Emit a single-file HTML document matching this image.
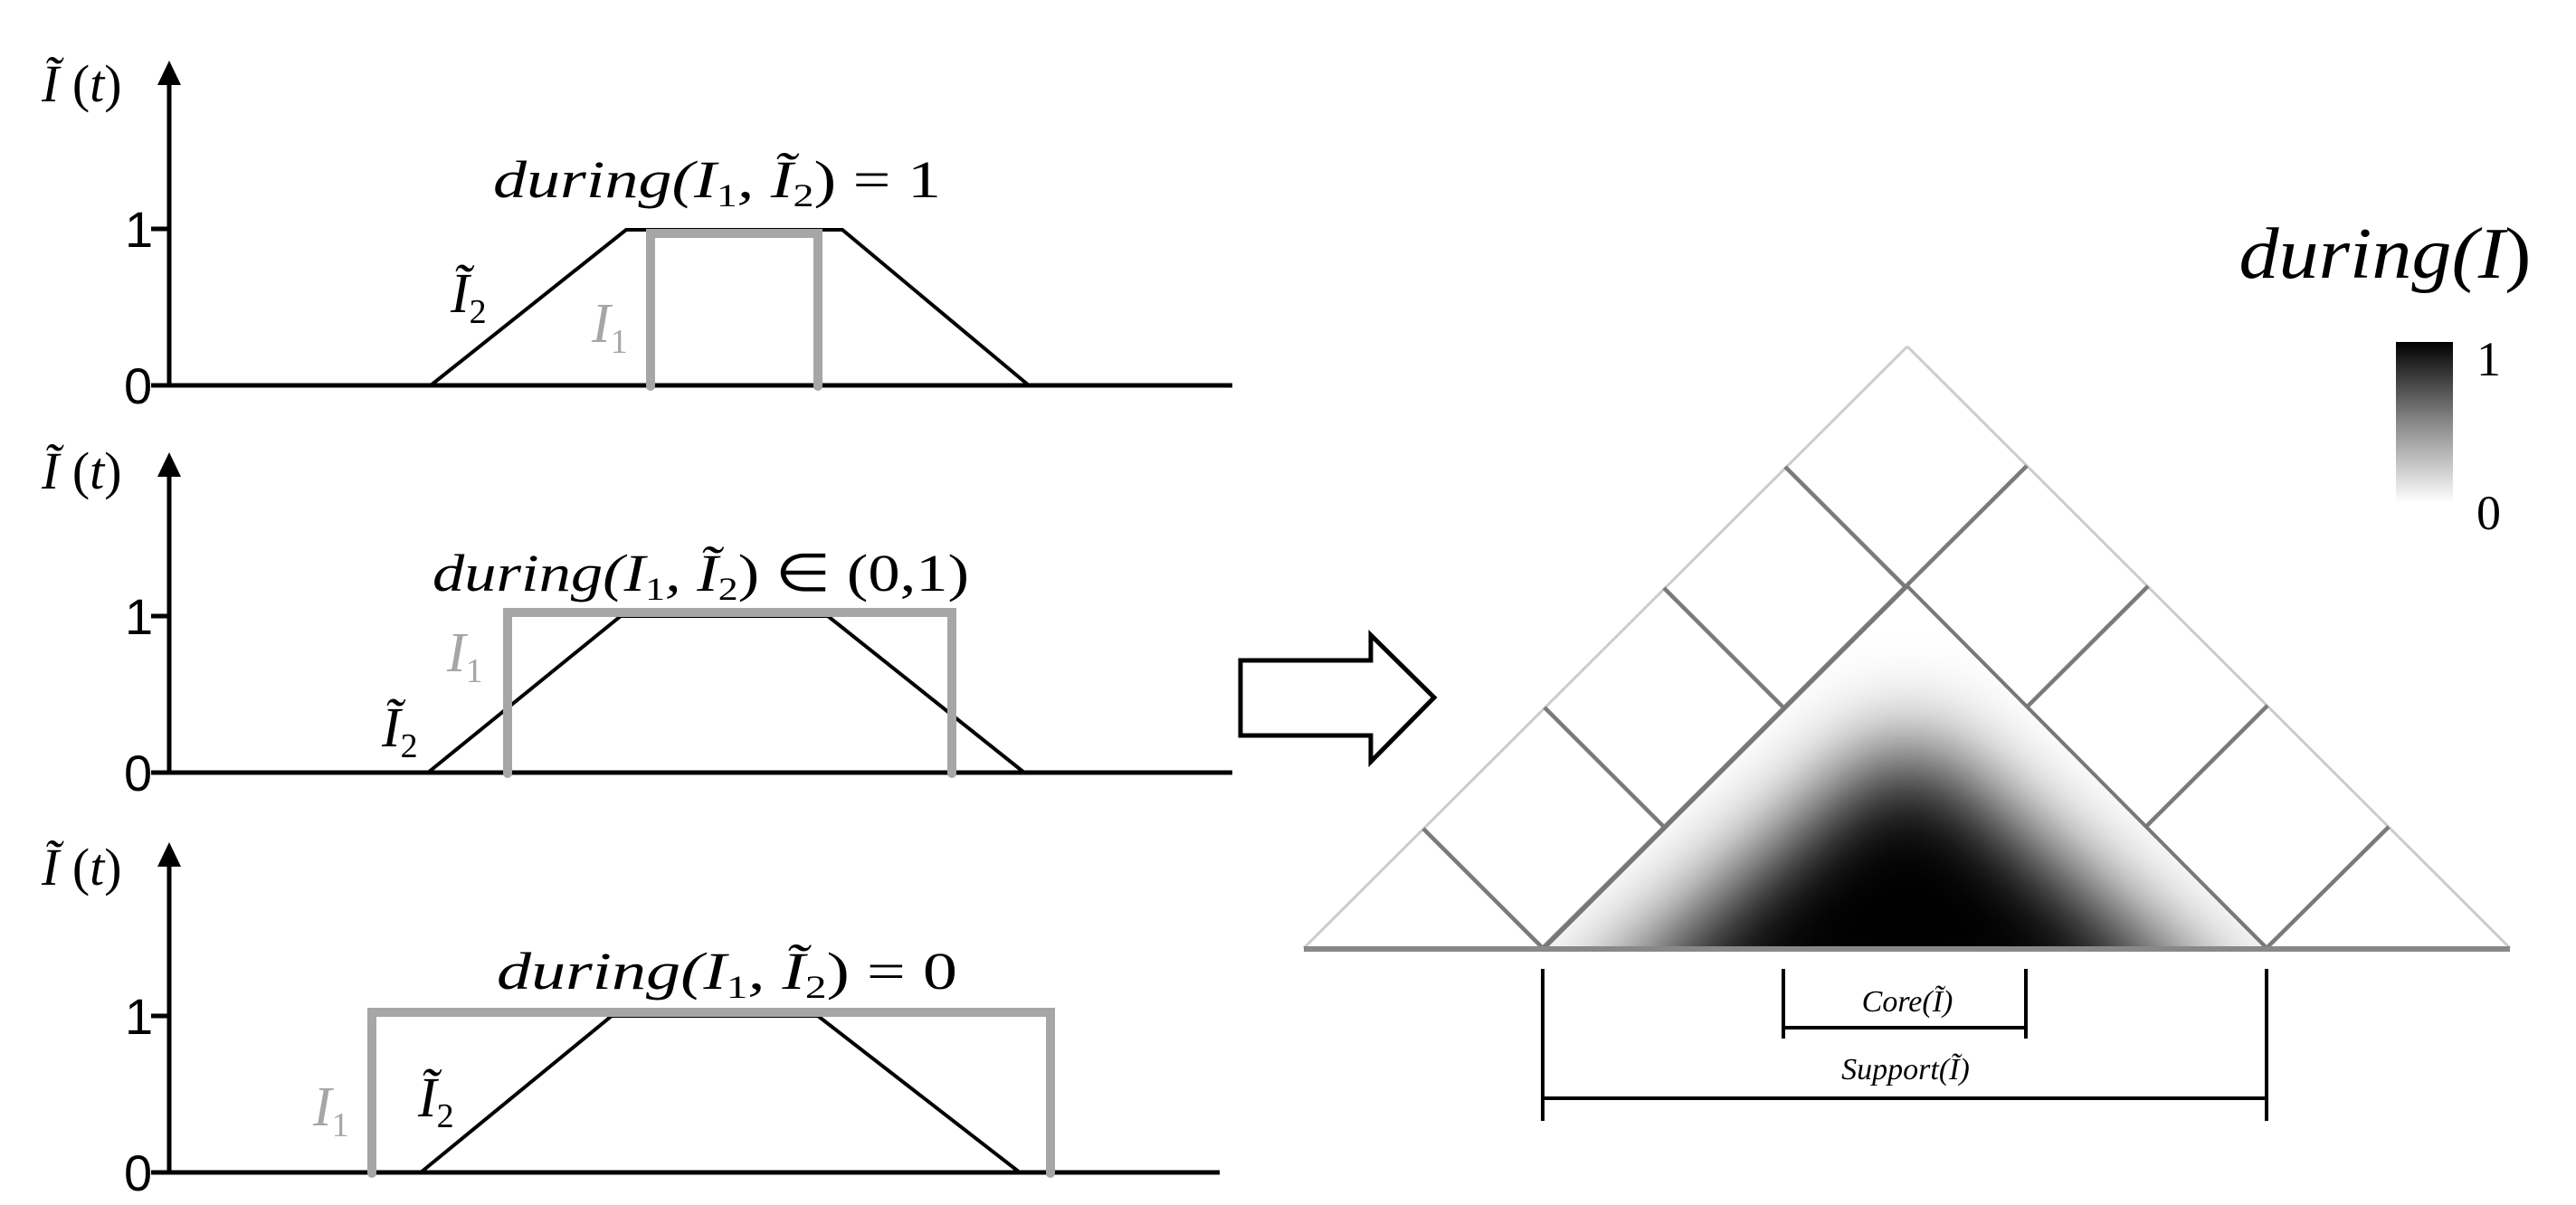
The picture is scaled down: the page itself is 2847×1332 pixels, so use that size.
<!DOCTYPE html>
<html><head><meta charset="utf-8"><style>html,body{margin:0;padding:0;background:#fff}svg{display:block}</style></head>
<body>
<svg width="2847" height="1332" viewBox="0 0 2847 1332" xmlns="http://www.w3.org/2000/svg">
<defs>
<linearGradient id="cb" x1="0" y1="0" x2="0" y2="1">
<stop offset="0" stop-color="#000"/><stop offset="0.5" stop-color="#888"/><stop offset="1" stop-color="#fff"/>
</linearGradient>
<clipPath id="gc"><polygon points="1707,1048 2108,648 2507,1048"/></clipPath>
<filter id="bl" filterUnits="userSpaceOnUse" x="1400" y="500" width="1400" height="800"><feGaussianBlur stdDeviation="55"/></filter>
</defs>
<g font-family="'Liberation Serif', serif" font-style="italic">
<!-- Plot 1 -->
<g stroke="#000" stroke-width="5" fill="none">
<line x1="187" y1="80" x2="187" y2="426"/><line x1="167" y1="426" x2="1362" y2="426"/><line x1="167" y1="253" x2="187" y2="253"/>
</g>
<polygon points="174,94 200,94 187,67" fill="#000"/>
<polyline points="476,426 692,254 931,254 1137,426" fill="none" stroke="#000" stroke-width="4"/>
<polyline points="719,427 719,258 904,258 904,427" fill="none" stroke="#a6a6a6" stroke-width="10" stroke-linecap="round"/>
<text x="545" y="218" font-size="58" textLength="495" lengthAdjust="spacingAndGlyphs">during(I<tspan font-style="normal" font-size="36" dy="10">1</tspan><tspan dy="-10">, Ĩ</tspan><tspan font-style="normal" font-size="36" dy="10">2</tspan><tspan dy="-10" font-style="normal">) = 1</tspan></text>
<text x="498" y="345" font-size="62">Ĩ<tspan font-style="normal" font-size="38" dy="12">2</tspan></text>
<text x="654" y="378" font-size="62" fill="#a6a6a6">I<tspan font-style="normal" font-size="38" dy="12">1</tspan></text>
<!-- Plot 2 -->
<g stroke="#000" stroke-width="5" fill="none">
<line x1="187" y1="512" x2="187" y2="854"/><line x1="167" y1="854" x2="1362" y2="854"/><line x1="167" y1="681" x2="187" y2="681"/>
</g>
<polygon points="174,527 200,527 187,500" fill="#000"/>
<polyline points="473,854 686,681 915,681 1132,854" fill="none" stroke="#000" stroke-width="4"/>
<polyline points="561,855 561,677 1052,677 1052,855" fill="none" stroke="#a6a6a6" stroke-width="10" stroke-linecap="round"/>
<text x="478" y="653" font-size="58" textLength="593" lengthAdjust="spacingAndGlyphs">during(I<tspan font-style="normal" font-size="36" dy="10">1</tspan><tspan dy="-10">, Ĩ</tspan><tspan font-style="normal" font-size="36" dy="10">2</tspan><tspan dy="-10" font-style="normal">) ∈ (0,1)</tspan></text>
<text x="494" y="742" font-size="62" fill="#a6a6a6">I<tspan font-style="normal" font-size="38" dy="12">1</tspan></text>
<text x="422" y="825" font-size="62">Ĩ<tspan font-style="normal" font-size="38" dy="12">2</tspan></text>
<!-- Plot 3 -->
<g stroke="#000" stroke-width="5" fill="none">
<line x1="187" y1="944" x2="187" y2="1296"/><line x1="167" y1="1296" x2="1348" y2="1296"/><line x1="167" y1="1123" x2="187" y2="1123"/>
</g>
<polygon points="174,958 200,958 187,931" fill="#000"/>
<polyline points="465,1296 676,1123 904,1123 1127,1296" fill="none" stroke="#000" stroke-width="4"/>
<polyline points="411,1297 411,1119 1161,1119 1161,1297" fill="none" stroke="#a6a6a6" stroke-width="10" stroke-linecap="round"/>
<text x="549" y="1093" font-size="58" textLength="509" lengthAdjust="spacingAndGlyphs">during(I<tspan font-style="normal" font-size="36" dy="10">1</tspan><tspan dy="-10">, Ĩ</tspan><tspan font-style="normal" font-size="36" dy="10">2</tspan><tspan dy="-10" font-style="normal">) = 0</tspan></text>
<text x="346" y="1244" font-size="62" fill="#a6a6a6">I<tspan font-style="normal" font-size="38" dy="12">1</tspan></text>
<text x="462" y="1234" font-size="62">Ĩ<tspan font-style="normal" font-size="38" dy="12">2</tspan></text>
<!-- axis labels -->
<g font-size="58">
<text x="46" y="112">Ĩ <tspan font-style="normal">(</tspan>t<tspan font-style="normal">)</tspan></text>
<text x="46" y="540">Ĩ <tspan font-style="normal">(</tspan>t<tspan font-style="normal">)</tspan></text>
<text x="46" y="978">Ĩ <tspan font-style="normal">(</tspan>t<tspan font-style="normal">)</tspan></text>
</g>
</g>
<g font-family="'Liberation Sans', sans-serif" font-size="56" fill="#000">
<text x="138" y="273">1</text><text x="137" y="446">0</text>
<text x="138" y="701">1</text><text x="137" y="874">0</text>
<text x="138" y="1143">1</text><text x="137" y="1316">0</text>
</g>
<!-- arrow -->
<polygon points="1371,730 1515,730 1515,702 1585,771 1515,842 1515,813 1371,813" fill="none" stroke="#000" stroke-width="5" stroke-linejoin="miter"/>
<!-- triangle grid -->
<g stroke="#ccc" stroke-width="3" fill="none">
<line x1="1441" y1="1048" x2="2108" y2="383"/><line x1="2108" y1="383" x2="2774" y2="1048"/>
</g>
<g stroke="#7a7a7a" stroke-width="4.5">
<line x1="1573" y1="916" x2="1705" y2="1048"/>
<line x1="1707" y1="782" x2="1973" y2="1048"/>
<line x1="1839" y1="650" x2="2237" y2="1048"/>
<line x1="1973" y1="516" x2="2505" y2="1048"/>
<line x1="1705" y1="1048" x2="2240" y2="515"/>
<line x1="1973" y1="1048" x2="2374" y2="648"/>
<line x1="2237" y1="1048" x2="2506" y2="780"/>
<line x1="2505" y1="1048" x2="2640" y2="914"/>
</g>
<g clip-path="url(#gc)">
<rect x="1700" y="640" width="820" height="420" fill="#fff"/>
<polygon points="1718,1150 2108,810 2498,1150" fill="#000" filter="url(#bl)"/>
<polygon points="1900,1150 2108,900 2316,1150" fill="#000" filter="url(#bl)" opacity="0.7"/>
</g>
<g stroke="#777" stroke-width="4" fill="none">
<line x1="1707" y1="1048" x2="2108" y2="648"/><line x1="2108" y1="648" x2="2505" y2="1048"/>
</g>
<line x1="1441" y1="1049" x2="2774" y2="1049" stroke="#888" stroke-width="6"/>
<!-- brackets -->
<g stroke="#000" stroke-width="4">
<line x1="1971" y1="1071" x2="1971" y2="1148"/><line x1="2239" y1="1071" x2="2239" y2="1148"/><line x1="1971" y1="1136" x2="2239" y2="1136"/>
<line x1="1705" y1="1071" x2="1705" y2="1239"/><line x1="2505" y1="1071" x2="2505" y2="1239"/><line x1="1705" y1="1214" x2="2505" y2="1214"/>
</g>
<g font-family="'Liberation Serif', serif" font-style="italic" fill="#000" text-anchor="middle">
<text x="2108" y="1118" font-size="34">Core(Ĩ)</text>
<text x="2106" y="1193" font-size="34">Support(Ĩ)</text>
<text x="2636" y="307" font-size="80" text-anchor="middle" textLength="323" lengthAdjust="spacingAndGlyphs">during(I<tspan font-style="normal">)</tspan></text>
</g>
<rect x="2648" y="378" width="63" height="178" fill="url(#cb)"/>
<g font-family="'Liberation Serif', serif" font-size="54" fill="#000">
<text x="2737" y="415">1</text><text x="2737" y="585">0</text>
</g>
</svg>
</body></html>
